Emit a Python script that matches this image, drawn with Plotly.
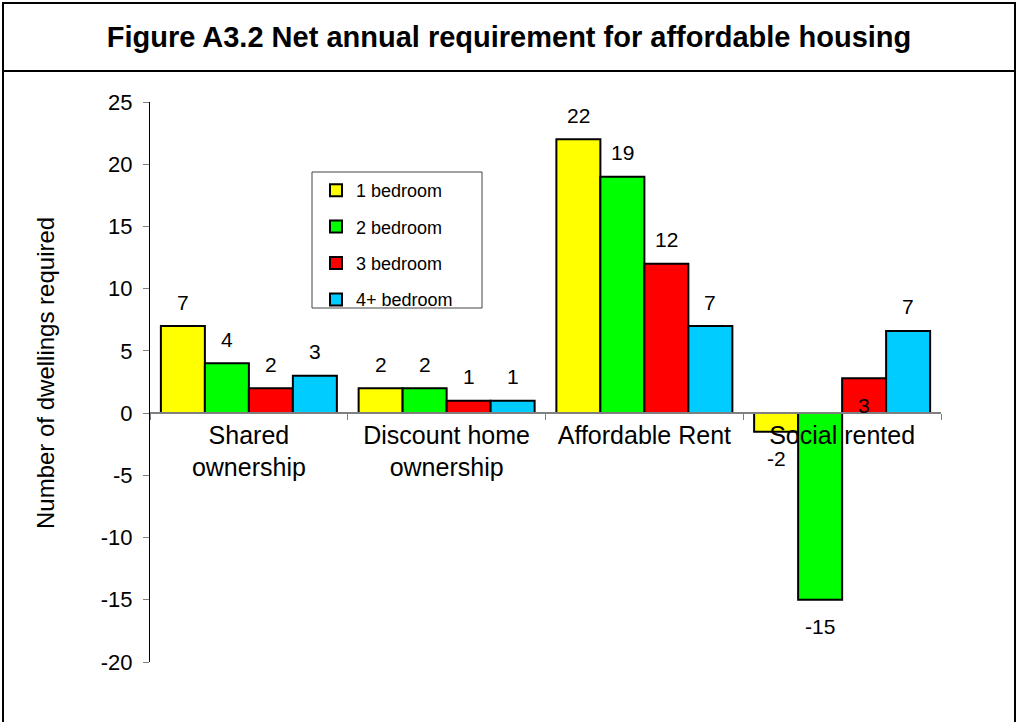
import plotly.graph_objects as go

categories = ["Shared<br>ownership", "Discount home<br>ownership", "Affordable Rent", "Social rented"]
series_names = ["1 bedroom", "2 bedroom", "3 bedroom", "4+ bedroom"]
one_bed = [7, 2, 22, -1.5]
two_bed = [4, 2, 19, -15]
three_bed = [2, 1, 12, 2.8]
four_bed = [3, 1, 7, 6.6]
y_ticks = [-20, -15, -10, -5, 0, 5, 10, 15, 20, 25]
y_tick_labels = ["-20", "-15", "-10", "-5", "0", "5", "10", "15", "20", "25"]

series_values = [one_bed, two_bed, three_bed, four_bed]
colors = ["#FFFF00", "#00FF00", "#FF0000", "#00CCFF"]

W, H = 1019, 722
L, R, T, B = 150, 78, 102, 60
pw, ph = W - L - R, H - T - B
bargap = 0.11
cat_px = pw / len(categories)
bar_px = cat_px * (1 - bargap) / len(series_names)

def px_x(p):
    return (p - L) / pw

def px_y(p):
    return (H - B - p) / ph

font_family = "Liberation Sans, Arial, sans-serif"

fig = go.Figure()
for name, vals, col in zip(series_names, series_values, colors):
    fig.add_trace(go.Bar(
        x=categories, y=vals, name=name, legendgroup=name,
        marker=dict(color=col, line=dict(color="black", width=2)),
        hoverinfo="skip",
    ))

# data labels
label_override = {(3, 2): -27}  # label drawn near the base for this point
annotations = []
for i, vals in enumerate(series_values):
    offset = (i - (len(series_names) - 1) / 2) * bar_px
    for j, v in enumerate(vals):
        ys = 24 if v >= 0 else -27
        if (j, i) in label_override:
            ys = label_override[(j, i)]
        annotations.append(dict(
            x=categories[j], y=v, xref="x", yref="y",
            text=str(int(round(v))), showarrow=False,
            xshift=offset, yshift=ys,
            font=dict(size=21, color="black", family=font_family),
        ))

# y axis title
annotations.append(dict(
    x=px_x(46), y=px_y(373), xref="paper", yref="paper",
    xanchor="center", yanchor="middle",
    text="Number of dwellings required", textangle=-90, showarrow=False,
    font=dict(size=24, color="black", family=font_family),
))

shapes = [
    # outer frame
    dict(type="rect", xref="paper", yref="paper",
         x0=px_x(3), x1=px_x(1015), y0=px_y(740), y1=px_y(3),
         line=dict(color="black", width=2), layer="below"),
    # title divider
    dict(type="line", xref="paper", yref="paper",
         x0=px_x(3), x1=px_x(1015), y0=px_y(71), y1=px_y(71),
         line=dict(color="black", width=2)),
    # legend box
    dict(type="rect", xref="paper", yref="paper",
         x0=px_x(312), x1=px_x(482), y0=px_y(308), y1=px_y(172),
         line=dict(color="#444444", width=1), layer="below"),
]

fig.update_layout(
    width=W, height=H,
    margin=dict(l=L, r=R, t=T, b=B),
    paper_bgcolor="white", plot_bgcolor="white",
    font=dict(family=font_family, color="black"),
    title=dict(
        text="<b>Figure A3.2 Net annual requirement for affordable housing</b>",
        x=509 / W, xanchor="center", xref="container",
        y=1 - 37 / H, yanchor="middle", yref="container",
        font=dict(size=29, color="black", family=font_family),
    ),
    barmode="group", bargap=bargap, bargroupgap=0,
    showlegend=True,
    legend=dict(
        x=px_x(316), y=px_y(172), xanchor="left", yanchor="top",
        bgcolor="rgba(0,0,0,0)", borderwidth=0,
        font=dict(size=18, color="black", family=font_family),
        tracegroupgap=10, traceorder="grouped",
    ),
    annotations=annotations,
    shapes=shapes,
    xaxis=dict(
        type="category", anchor="free", position=20 / 45,
        showline=True, linecolor="#808080", linewidth=1.5,
        ticks="outside", tickson="boundaries", ticklen=6, tickcolor="#808080",
        tickfont=dict(size=25, color="black", family=font_family),
        showgrid=False, zeroline=False, range=[-0.5, 3.5],
    ),
    yaxis=dict(
        range=[-20, 25], tickvals=y_ticks, ticktext=y_tick_labels, domain=[0, 1],
        showline=True, linecolor="black", linewidth=1,
        ticks="outside", ticklen=6, tickcolor="#808080",
        ticklabelstandoff=6,
        tickfont=dict(size=22, color="black", family=font_family),
        showgrid=False, zeroline=False,
    ),
)

fig.write_html(
    "out.html",
    config={"displayModeBar": False},
    post_script="document.body.style.margin='0';document.body.style.overflow='hidden';",
)
